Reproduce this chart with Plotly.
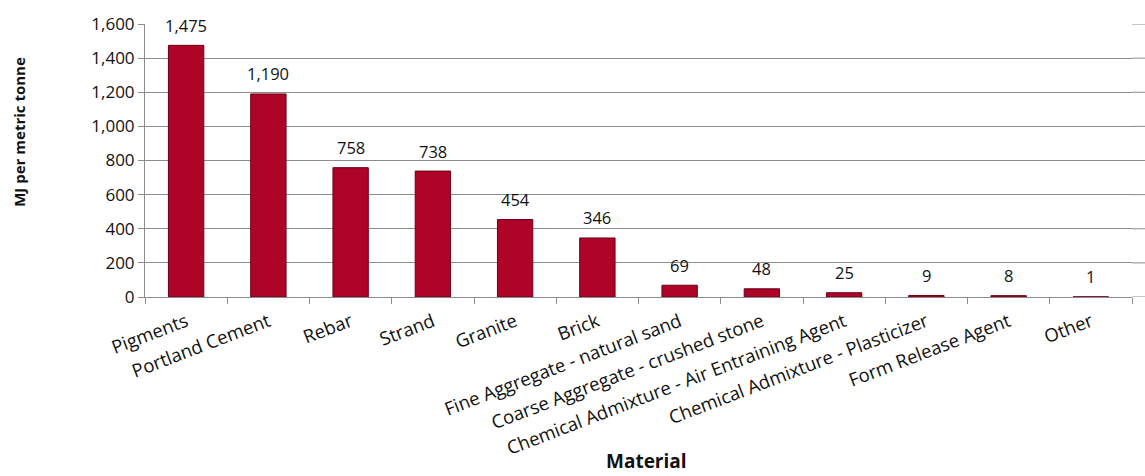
import plotly.graph_objects as go

materials = ["Pigments", "Portland Cement", "Rebar", "Strand", "Granite", "Brick",
             "Fine Aggregate - natural sand", "Coarse Aggregate - crushed stone",
             "Chemical Admixture - Air Entraining Agent", "Chemical Admixture - Plasticizer",
             "Form Release Agent", "Other"]
energy_mj = [1475, 1190, 758, 738, 454, 346, 69, 48, 25, 9, 8, 1]
y_ticks = [0, 200, 400, 600, 800, 1000, 1200, 1400, 1600]

FONT = "Open Sans"
TXT = "#111111"
GRID = "#8c8c8c"

fig = go.Figure()
fig.add_trace(go.Bar(
    x=materials, y=energy_mj,
    marker=dict(color="#ad0428", line=dict(color="#6a0018", width=1)),
    width=0.43,
    cliponaxis=False,
))
for m, v in zip(materials, energy_mj):
    fig.add_annotation(x=m, y=v, text=f"{v:,}", showarrow=False,
                       yanchor="middle", yshift=20,
                       font=dict(family=FONT, size=16.5, color=TXT))

fig.update_layout(
    width=1145, height=476,
    margin=dict(l=145, r=13, t=19, b=179),
    paper_bgcolor="white", plot_bgcolor="white",
    showlegend=False,
    font=dict(family=FONT, size=16, color=TXT),
)
fig.update_xaxes(
    type="category",
    tickangle=-21,
    tickfont=dict(family=FONT, size=18.5, color=TXT),
    showline=True, linecolor=GRID, linewidth=1,
    ticks="outside", ticklen=6, tickcolor=GRID, tickson="boundaries",
    ticklabelstandoff=6,
    showgrid=False,
)
fig.update_yaxes(
    range=[0, 1600], tickvals=y_ticks, tickformat=",",
    showgrid=True, gridcolor=GRID, gridwidth=1,
    showline=True, linecolor=GRID, linewidth=1,
    ticks="outside", ticklen=6, tickcolor=GRID,
    tickfont=dict(family=FONT, size=17, color=TXT),
    zeroline=False,
)
# gridlines continue a little past the plot area on the right, as in the original
for t in y_ticks:
    fig.add_shape(type="line", xref="paper", yref="y", x0=1, x1=1.02, y0=t, y1=t,
                  line=dict(color=GRID, width=1), layer="below")

fig.add_annotation(text="<b>MJ per metric tonne</b>", textangle=-90,
                   xref="paper", yref="paper", x=-0.128, y=0.604,
                   xanchor="center", yanchor="middle", showarrow=False,
                   font=dict(family=FONT, size=15, color=TXT))
fig.add_annotation(text="<b>Material</b>",
                   xref="paper", yref="paper", x=0.508, y=-0.599,
                   xanchor="center", yanchor="middle", showarrow=False,
                   font=dict(family=FONT, size=19, color=TXT))

fig.write_html("out.html")
